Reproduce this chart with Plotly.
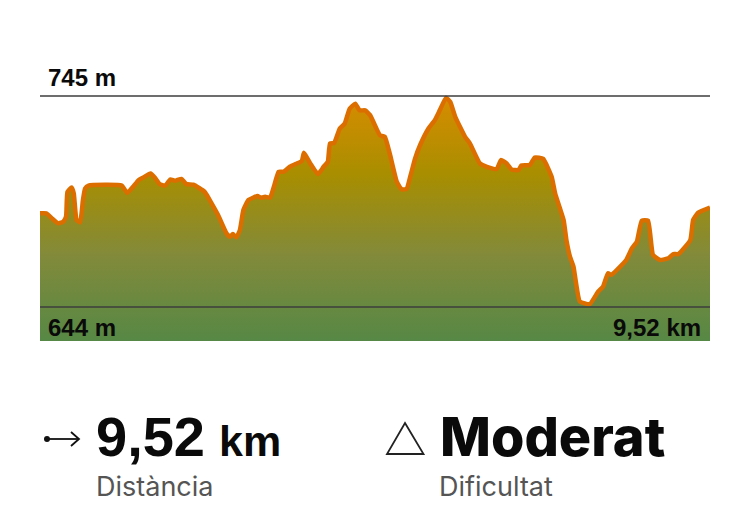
import plotly.graph_objects as go

# Elevation profile
DIST_KM = [
    0.00, 0.09, 0.17, 0.26, 0.33, 0.37, 0.39, 0.45, 0.48, 0.52, 0.57, 0.61, 0.64, 0.69, 1.16, 1.24,
    1.33, 1.40, 1.47, 1.57, 1.63, 1.70, 1.78, 1.85, 1.92, 2.01, 2.08, 2.18, 2.34, 2.44, 2.53, 2.65,
    2.70, 2.74, 2.79, 2.84, 2.89, 2.96, 3.03, 3.09, 3.14, 3.20, 3.27, 3.33, 3.39, 3.46, 3.55, 3.65,
    3.72, 3.75, 3.84, 3.95, 4.03, 4.09, 4.12, 4.18, 4.26, 4.33, 4.40, 4.48, 4.54, 4.62, 4.69, 4.78,
    4.83, 4.90, 4.97, 5.07, 5.14, 5.21, 5.26, 5.33, 5.40, 5.52, 5.61, 5.68, 5.77, 5.83, 5.90, 6.04,
    6.11, 6.25, 6.35, 6.49, 6.55, 6.63, 6.70, 6.80, 6.84, 6.96, 7.03, 7.15, 7.27, 7.32, 7.44, 7.48,
    7.53, 7.58, 7.67, 7.81, 7.93, 8.00, 8.07, 8.12, 8.22, 8.33, 8.41, 8.48, 8.55, 8.64, 8.71, 8.81,
    8.93, 9.00, 9.07, 9.24, 9.28, 9.35, 9.52,
]
ELEV_M = [
    688.8, 688.8, 686.4, 684.0, 684.8, 687.2, 699.1, 701.2, 698.3, 685.6, 684.5, 695.1, 700.7, 702.1, 702.1, 698.6,
    701.8, 704.7, 706.0, 707.9, 706.0, 702.8, 702.1, 705.0, 704.4, 705.3, 702.8, 702.5, 699.1, 693.5, 688.0, 679.2,
    677.6, 678.9, 677.3, 680.8, 690.4, 695.1, 696.3, 697.1, 696.3, 696.7, 696.4, 702.3, 708.7, 708.7, 711.1, 712.7,
    713.8, 717.8, 712.7, 707.6, 711.1, 713.5, 722.2, 722.5, 729.4, 731.8, 738.9, 741.3, 738.1, 738.1, 735.8, 729.4,
    726.2, 725.4, 717.4, 703.9, 700.2, 700.6, 706.3, 715.1, 721.4, 729.4, 733.4, 738.1, 744.2, 742.1, 735.0, 725.4,
    722.2, 712.7, 711.1, 710.0, 714.3, 712.7, 709.8, 709.5, 711.7, 711.9, 715.5, 714.9, 706.3, 698.3, 685.6, 676.0,
    668.1, 663.3, 646.6, 645.3, 651.3, 653.7, 660.1, 659.3, 662.5, 666.5, 672.0, 675.2, 685.3, 685.3, 668.9, 666.5,
    667.3, 669.3, 669.3, 676.0, 685.6, 689.1, 691.6,
]

MAX_ELEV = 745
MIN_ELEV = 644
FLOOR_ELEV = 627.7
TOTAL_KM = 9.52

# plot area in page pixels
W, H = 750, 526
LEFT, RIGHT, TOP, BOTTOM = 40, 710, 60, 341


def px_x(x):
    return (x - LEFT) / (RIGHT - LEFT)


def px_y(y):
    return (BOTTOM - y) / (BOTTOM - TOP)


def label(fig, text, x, y, size, color='#0a0a0a', weight=700, anchor='left', font='Liberation Sans'):
    fig.add_annotation(
        x=px_x(x), y=px_y(y), xref='paper', yref='paper',
        text=text,
        showarrow=False, xanchor=anchor, yanchor='middle',
        borderpad=0,
        font={'family': font, 'size': size, 'color': color, 'weight': weight},
    )


fig = go.Figure()

fig.add_trace(go.Scatter(
    x=[0, TOTAL_KM], y=[FLOOR_ELEV, FLOOR_ELEV],
    mode='lines', line={'width': 0}, showlegend=False, hoverinfo='skip',
))

fig.add_trace(go.Scatter(
    x=DIST_KM, y=ELEV_M,
    mode='lines',
    line={'color': '#dc6e00', 'width': 4.5, 'shape': 'spline', 'smoothing': 0.4},
    fill='tonexty',
    fillgradient={
        'type': 'vertical',
        'start': FLOOR_ELEV,
        'stop': MAX_ELEV,
        'colorscale': [
            [0.0, '#568845'],
            [0.35, '#828a3a'],
            [0.68, '#a88e00'],
            [1.0, '#d88c00'],
        ],
    },
    showlegend=False,
))

# top and bottom reference lines
for level in (MAX_ELEV, MIN_ELEV):
    fig.add_shape(
        type='line', xref='x', yref='y',
        x0=0, x1=TOTAL_KM, y0=level, y1=level,
        line={'color': '#3c3c3c', 'width': 1.5}, layer='above',
    )

# distance icon
fig.add_shape(type='line', xref='paper', yref='paper',
              x0=px_x(47), x1=px_x(79), y0=px_y(439), y1=px_y(439),
              line={'color': '#111111', 'width': 1.8})
fig.add_shape(type='circle', xref='paper', yref='paper',
              x0=px_x(44), x1=px_x(50), y0=px_y(436), y1=px_y(442),
              fillcolor='#111111', line={'width': 0})
fig.add_shape(type='path', xref='paper', yref='paper',
              path=f'M {px_x(71)} {px_y(432)} L {px_x(79)} {px_y(439)} L {px_x(71)} {px_y(446)}',
              line={'color': '#111111', 'width': 1.8})

# difficulty icon
fig.add_shape(type='path', xref='paper', yref='paper',
              path=f'M {px_x(405)} {px_y(423)} L {px_x(423.5)} {px_y(454)} L {px_x(387)} {px_y(454)} Z',
              line={'color': '#222222', 'width': 1.8})

label(fig, '745 m', 47, 77, 24)
label(fig, '644 m', 47, 327, 24)
label(fig, '9,52 km', 702, 327, 24, anchor='right')
label(fig, '9,52', 95, 436, 56)
label(fig, 'km', 218, 441, 43)
label(fig, 'Moderat', 439, 436, 54, weight=800, font='Inter')
label(fig, 'Distància', 95, 486, 27, color='#555555', weight=400, font='Inter')
label(fig, 'Dificultat', 438, 486, 27, color='#555555', weight=400, font='Inter')

fig.update_xaxes(range=[0, TOTAL_KM], visible=False, fixedrange=True)
fig.update_yaxes(
    range=[FLOOR_ELEV, FLOOR_ELEV + (BOTTOM - TOP) * (MAX_ELEV - MIN_ELEV) / 211],
    visible=False, fixedrange=True,
)

fig.update_layout(
    width=W,
    height=H,
    autosize=False,
    margin={'l': LEFT, 'r': W - RIGHT, 't': TOP, 'b': H - BOTTOM, 'pad': 0},
    paper_bgcolor='white',
    plot_bgcolor='white',
)

# the browser's default body margin would push the chart 8px off
fig.write_html('out.html', config={'displayModeBar': False},
               post_script="document.body.style.margin = '0';")
